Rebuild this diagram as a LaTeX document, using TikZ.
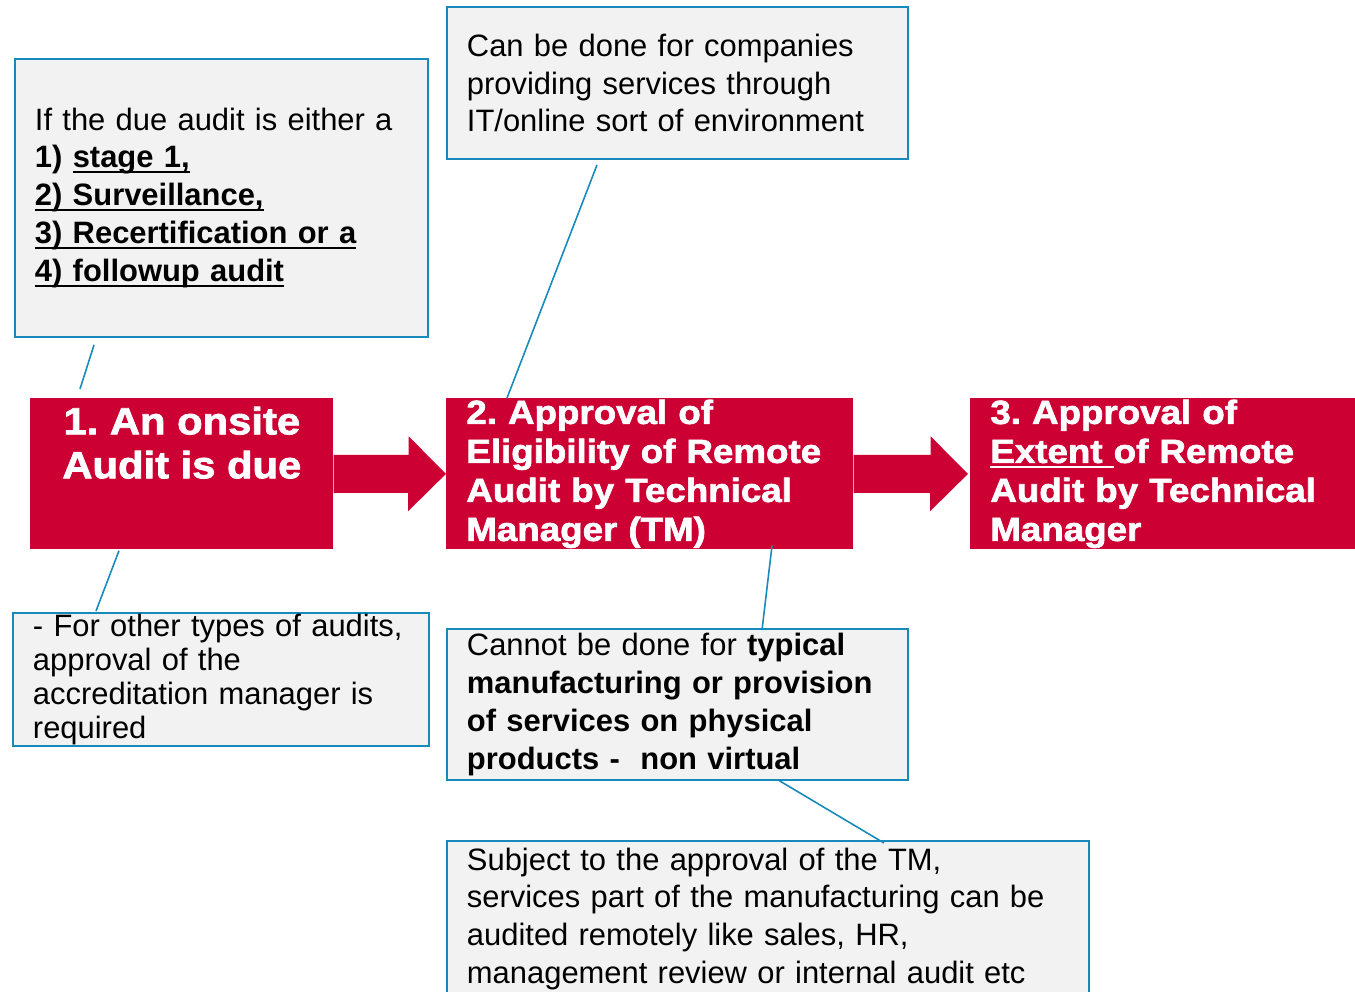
\documentclass[tikz,border=0pt]{standalone}
\usepackage{fontspec}
\setmainfont{Liberation Sans}
\newfontfamily\heavyfont{Liberation Sans}[FakeStretch=1.1,FakeBold=2]
\usetikzlibrary{calc}
\definecolor{auditred}{RGB}{204,0,51}
\definecolor{noteblue}{RGB}{22,138,186}
\definecolor{notegrey}{RGB}{242,242,242}
\frenchspacing
\newsavebox\undlbox
\newcommand\undl[2][black]{\leavevmode\sbox\undlbox{#2}\rlap{\color{#1}\rule[-3pt]{\wd\undlbox}{1.1pt}}\usebox\undlbox}
\begin{document}
\begin{tikzpicture}[x=0.02cm,y=-0.02cm,
  note/.style={draw=noteblue, line width=1.1pt, fill=notegrey, anchor=north west,
    align=left, inner sep=0pt, font=\fontsize{17.6}{21.6}\selectfont},
  redbox/.style={fill=auditred, anchor=north west, inner sep=0pt, align=left,
    text=white, font=\heavyfont\bfseries\fontsize{19}{22.2}\selectfont},
  callout/.style={draw=noteblue, line width=0.9pt},
  blockarrow/.style={fill=auditred}]
\useasboundingbox (0,0) rectangle (1355,991);
% notes
\node[note, minimum width=8.26cm, minimum height=5.56cm, text width=7.46cm] (stages) at (14,58)
  {If the due audit is either a\\
   \textbf{1) \undl{stage 1,}}\\
   \textbf{\undl{2) Surveillance,}}\\
   \textbf{\undl{3) Recertification or a}}\\
   \textbf{\undl{4) followup audit}}};
\node[note, minimum width=9.22cm, minimum height=3.04cm, text width=8.42cm] (online) at (446,6)
  {Can be done for companies\\
   providing services through\\
   IT/online sort of environment};
\node[note, minimum width=8.32cm, minimum height=2.66cm, text width=7.52cm,
  font=\fontsize{17.6}{19.4}\selectfont] (others) at (12,612)
  {- For other types of audits,\\
   approval of the\\
   accreditation manager is\\
   required};
\node[note, minimum width=9.22cm, minimum height=3.02cm, text width=8.42cm] (physical) at (446,628)
  {Cannot be done for \textbf{typical}\\
   \textbf{manufacturing or provision}\\
   \textbf{of services on physical}\\
   \textbf{products -\ \ non virtual}};
\node[note, minimum width=12.84cm, minimum height=3.12cm, text width=12.04cm] (subject) at (446,840)
  {Subject to the approval of the TM,\\
   services part of the manufacturing can be\\
   audited remotely like sales, HR,\\
   management review or internal audit etc};
% steps
\node[redbox, minimum width=6.06cm, minimum height=3.02cm] (due) at (30,398) {};
\node[redbox, anchor=north, align=center, font=\heavyfont\bfseries\fontsize{21.6}{25}\selectfont]
  (duetext) at ($(due.north)+(0,8.5)$) {1. An onsite\\Audit is due};
\node[redbox, minimum width=8.14cm, minimum height=3.02cm, text width=7.34cm] (elig) at (446,398)
  {2. Approval of\\
   Eligibility of Remote\\
   Audit by Technical\\
   Manager (TM)};
\node[redbox, minimum width=7.7cm, minimum height=3.02cm, text width=6.9cm] (extent) at (970,398)
  {3. Approval of\\
   \undl[white]{Extent\ }of Remote\\
   Audit by Technical\\
   Manager};
% arrows
\fill[blockarrow] ($(due.east)+(0,-19)$) -- ++(75,0) -- ++(0,-18.5) -- (elig.west)
  -- ++(-38,37.5) -- ++(0,-18.5) -- ($(due.east)+(0,19)$) -- cycle;
\fill[blockarrow] ($(elig.east)+(0,-19)$) -- ++(77,0) -- ++(0,-18.5) -- ($(extent.west)+(-2,0)$)
  -- ++(-38,37.5) -- ++(0,-18.5) -- ($(elig.east)+(0,19)$) -- cycle;
% callouts
\draw[callout] ($(stages.south west)+(80,7)$) -- ($(due.north west)+(50,-9)$);
\draw[callout] ($(online.south west)+(151,5)$) -- ($(elig.north west)+(61,0)$);
\draw[callout] ($(due.south west)+(89,1)$) -- ($(others.north west)+(84,-1)$);
\draw[callout] ($(elig.south west)+(326,-4)$) -- ($(physical.north west)+(316,2)$);
\draw[callout] ($(physical.south west)+(332,-1)$) -- ($(subject.north west)+(438,3)$);
\end{tikzpicture}
\end{document}
